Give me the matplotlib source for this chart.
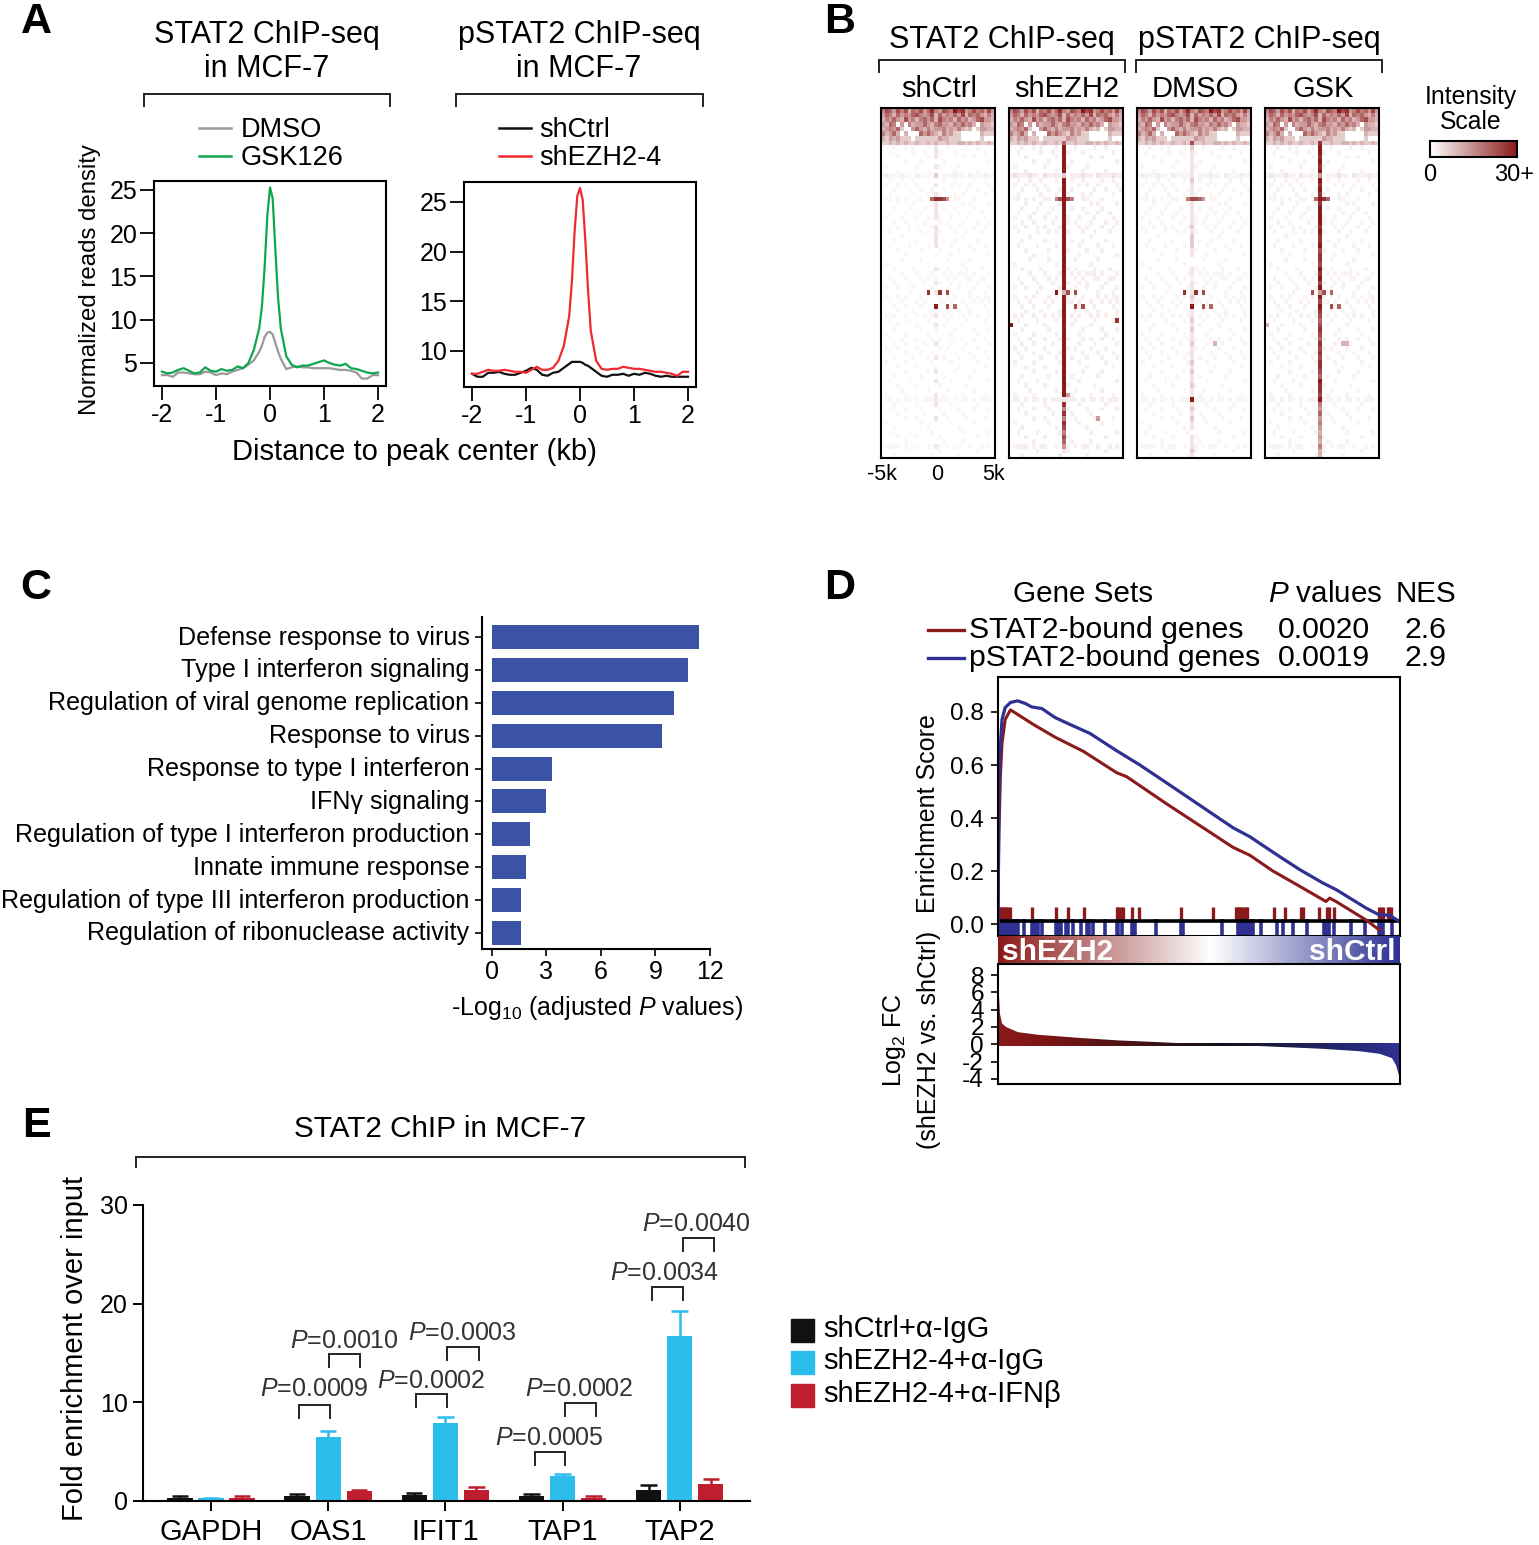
import matplotlib
matplotlib.use('Agg')
import matplotlib.pyplot as plt
import numpy as np
from matplotlib.colors import LinearSegmentedColormap
from matplotlib.transforms import ScaledTranslation

plt.rcParams['font.family'] = ['Liberation Sans', 'DejaVu Sans']
plt.rcParams['mathtext.fontset'] = 'custom'
plt.rcParams['mathtext.rm'] = 'Liberation Sans'
plt.rcParams['mathtext.it'] = 'Liberation Sans:italic'
plt.rcParams['mathtext.bf'] = 'Liberation Sans:bold'
plt.rcParams['axes.linewidth'] = 1.5
plt.rcParams['axes.unicode_minus'] = False

W, H = 1539, 1545

# Panel A
kb = [-2, -1.9, -1.8, -1.7, -1.6, -1.5, -1.4, -1.3, -1.2, -1.1, -1, -0.9, -0.8, -0.7, -0.6, -0.5, -0.4, -0.3,
      -0.2, -0.15, -0.1, -0.05, 0, 0.05, 0.1, 0.15, 0.2, 0.3, 0.4, 0.5, 0.6, 0.7, 0.8, 0.9, 1, 1.1, 1.2, 1.3,
      1.4, 1.5, 1.6, 1.7, 1.8, 1.9, 2]
dmso = [3.6, 3.6, 3.4, 3.9, 3.9, 3.8, 3.7, 3.7, 4.0, 3.9, 3.6, 3.8, 3.7, 4.0, 4.2, 4.4, 4.8, 5.3,
        6.3, 7.0, 8.0, 8.5, 8.6, 8.3, 7.3, 6.3, 5.5, 4.3, 4.5, 4.6, 4.5, 4.5, 4.4, 4.4, 4.4, 4.4, 4.3, 4.2,
        4.2, 4.1, 3.9, 3.2, 3.2, 3.6, 3.6]
gsk126 = [4.0, 3.8, 3.9, 4.2, 4.4, 4.1, 3.8, 3.9, 4.5, 4.1, 4.0, 4.3, 4.1, 4.2, 4.6, 4.4, 5.0, 6.5,
          9.0, 11.5, 16.0, 22.0, 25.3, 24.0, 18.0, 12.5, 9.0, 5.8, 4.8, 4.5, 4.7, 4.7, 4.9, 5.1, 5.3, 5.0, 4.8, 4.7,
          4.9, 4.4, 4.3, 4.1, 3.9, 3.8, 3.9]
shctrl_a = [7.7, 7.4, 7.4, 7.8, 7.8, 7.9, 7.7, 7.6, 7.6, 7.8, 8.0, 8.3, 8.1, 7.6, 7.5, 7.8, 7.9, 8.3,
            8.7, 8.9, 8.9, 8.9, 8.9, 8.8, 8.6, 8.5, 8.3, 7.9, 7.5, 7.4, 7.6, 7.6, 7.7, 7.5, 7.7, 7.6, 7.8, 7.7,
            7.5, 7.4, 7.5, 7.4, 7.4, 7.4, 7.4]
shezh2_a = [7.7, 7.7, 7.9, 8.1, 8.0, 8.0, 8.1, 8.0, 7.9, 7.9, 7.8, 8.1, 8.4, 8.1, 8.1, 8.3, 9.0, 10.5,
            13.5, 17.0, 22.0, 25.6, 26.4, 25.2, 21.0, 16.0, 12.0, 9.0, 8.2, 8.1, 8.2, 8.2, 8.4, 8.3, 8.2, 8.2, 8.1, 8.0,
            7.9, 7.9, 7.8, 7.7, 7.5, 7.9, 7.9]

# Panel B: digits are intensity levels, one string per row, one char per column
bg_rows = [
    '576475736574685476597845756474', '465364546754573645464736564353', '354643745356463754536453467443',
    '436504053446435644354645304332', '345462004643534453435323024433', '534630300064643253422000003222',
    '324342220222222433222000002000', '223232322322323223223323232232', '000100101000101001000010010000',
    '001000001001000100010000000100', '000010000000100000000100100000', '000000100010000010000000000010',
    '010000000100000100001000000000', '000010000000100000010000010000', '121112110211112011121102111211',
    '001001001000100010010000100100', '010010100100001000101001000010', '000100010010010010000010010001',
    '001000001000100100010100000100', '011010100110002010011000100000', '000010001000010000000101000010',
    '000100010001000010010000100000', '001000100010001000001001001000', '010001000100100100100010000100',
    '000100100001000101000100010010', '010010010100010000101000100100', '001000010010100100010010001000',
    '000001000000001000000100000000', '000100000100000010010000010000', '001000010000100000100001000100',
    '000010000010000100001000100000', '000000100000001000100000000010', '000001000010000001000001000000',
    '010000000000100000000100000000', '000100001000000101000010001000', '000001000100010010101110100010',
    '001000100010101001010011001100', '000100010001000100101000010000', '010010001000010001001000100010',
    '000000010000000100000001000100', '010010100010100101010001010110', '001001000101000110100100101010',
    '000100100010001000100010000100', '000010001000010001001001000010', '010100100101010010100101010010',
    '001000010000100001000010000100', '000010000100000010000100000000', '000100000010001000010000100010',
    '010000100000100000100000010000', '001001000100010100010100100100', '000100100001001000100010000010',
    '010010000100000101000100010000', '001000100010010000010001000100', '000100001000100010001000100010',
    '010000100000010000100000010000', '000010000100001000001000000100', '000000100000100000010000100000',
    '000100000010000010000001000000', '001000010000001000100000000010', '000010000100000100000010000000',
    '000001000000100001000000100000', '010000100000000010000100000100', '011010110101110111010110101110',
    '000100000100001000100000010000', '001000100010000100001000100010', '000010000001000010000100000000',
    '000000100100000001000010000100', '010000000010000000100000100000', '000100000000100000001000000000',
    '001000010000010000000100000010', '000010000100000100000000010000', '000000100000000010000100000000',
    '011110101100101101011001001010', '000000010000000100000000010000', '000100000000010000001000000000',
]
center_ctrl = '5565645' + '3' + '111010' + '2' + '010101111011111000010010' + '1' + '0010101000100100101001' + '1' + '10010000' + '0100'
center_ezh2 = '5565645' + '6' + '999999' + '2' + '999999999999999999999999' + '3' + '9999999999999999999999' + '1' + '85858757' + '6410'
center_dmso = '4565945' + '7' + '211111' + '1' + '211121111121222110011011' + '1' + '2121121211211121211211' + '9' + '12121101' + '1121'
center_gsk = '5676845' + '8' + '998989' + '4' + '989898999989889788798979' + '4' + '9798767876878788769887' + '9' + '54645434' + '3533'
# row, column, level
dots_ctrl = [(19, 13, 6), (19, 14, 8), (19, 15, 8), (19, 16, 7), (19, 17, 4), (39, 12, 8), (39, 15, 8), (39, 17, 7),
             (42, 14, 9), (42, 17, 7), (42, 19, 6)]
dots_ezh2 = [(19, 12, 5), (19, 13, 7), (19, 15, 7), (19, 16, 5), (39, 12, 9), (39, 15, 7), (39, 17, 7), (42, 17, 7),
             (42, 19, 7), (45, 28, 8), (46, 0, 9), (66, 23, 4), (61, 15, 4)]
dots_dmso = [(19, 13, 5), (19, 14, 7), (19, 15, 7), (19, 16, 6), (19, 17, 4), (39, 12, 8), (39, 15, 8), (39, 17, 7),
             (42, 14, 9), (42, 17, 7), (42, 19, 6), (50, 20, 3)]
dots_gsk = [(19, 13, 6), (19, 15, 8), (19, 16, 6), (39, 12, 7), (39, 15, 7), (39, 17, 6), (42, 17, 7), (42, 19, 6),
            (46, 0, 3), (50, 20, 3), (50, 21, 3)]
heat_names = ['shCtrl', 'shEZH2', 'DMSO', 'GSK']
heat_centers = [center_ctrl, center_ezh2, center_dmso, center_gsk]
heat_dots = [dots_ctrl, dots_ezh2, dots_dmso, dots_gsk]
heat_sparse = [0.3, 0.6, 0.4, 0.5]

# Panel C
terms = ['Defense response to virus', 'Type I interferon signaling', 'Regulation of viral genome replication',
         'Response to virus', 'Response to type I interferon', 'IFN\u03b3 signaling',
         'Regulation of type I interferon production', 'Innate immune response',
         'Regulation of type III interferon production', 'Regulation of ribonuclease activity']
logp = [11.4, 10.8, 10.0, 9.36, 3.3, 2.97, 2.1, 1.87, 1.6, 1.6]

# Panel D
es_blue_x = [0, 0.001, 0.002, 0.004, 0.010, 0.018, 0.031, 0.049, 0.068, 0.084, 0.109, 0.142, 0.179, 0.229, 0.295, 0.353,
             0.419, 0.502, 0.585, 0.626, 0.692, 0.750, 0.808, 0.841, 0.916, 0.949, 0.973, 1.0]
es_blue_y = [0, 0.25, 0.45, 0.632, 0.772, 0.817, 0.836, 0.842, 0.832, 0.819, 0.813, 0.779, 0.753, 0.719, 0.654, 0.600,
             0.533, 0.448, 0.363, 0.330, 0.263, 0.206, 0.155, 0.130, 0.060, 0.034, 0.034, 0.009]
es_red_x = [0, 0.001, 0.0025, 0.006, 0.010, 0.018, 0.031, 0.088, 0.142, 0.213, 0.295, 0.320, 0.419, 0.585, 0.626, 0.684,
            0.758, 0.816, 0.825, 0.841, 0.916, 0.949]
es_red_y = [0, 0.18, 0.35, 0.56, 0.683, 0.772, 0.808, 0.753, 0.705, 0.651, 0.571, 0.556, 0.454, 0.289, 0.260, 0.200,
            0.136, 0.085, 0.098, 0.085, 0.015, -0.023]
rug_red = [0, .004, .008, .012, .017, .021, .025, .029, .085, .145, .175, .213, .295, .299, .307, .312, .334, .350, .455,
           .534, .591, .595, .599, .603, .607, .611, .616, .620, .686, .714, .754, .758, .799, .818, .823, .837, .949,
           .953, .957, .969, .973, .978]
rug_blue = [0, .004, .008, .012, .017, .021, .025, .029, .033, .037, .041, .045, .050, .065, .084, .088, .092, .096, .100,
            .109, .145, .149, .153, .157, .168, .174, .186, .206, .222, .227, .237, .267, .295, .299, .308, .333, .337,
            .341, .393, .455, .460, .557, .597, .601, .605, .609, .613, .617, .621, .626, .630, .634, .655, .694, .709,
            .734, .769, .812, .816, .824, .837, .879, .913, .949, .953, .957, .980]
fc_x = [0, 0.002, 0.005, 0.01, 0.02, 0.05, 0.1, 0.2, 0.3, 0.4, 0.5, 0.6, 0.7, 0.8, 0.9, 0.95, 0.98, 0.99, 0.997, 1]
fc_y = [9.0, 6.0, 3.5, 2.4, 2.0, 1.4, 1.1, 0.75, 0.45, 0.25, 0.03, -0.1, -0.3, -0.5, -0.8, -1.1, -1.6, -2.4, -3.5, -4.4]

# Panel E
genes = ['GAPDH', 'OAS1', 'IFIT1', 'TAP1', 'TAP2']
e_series = ['shCtrl+\u03b1-IgG', 'shEZH2-4+\u03b1-IgG', 'shEZH2-4+\u03b1-IFN\u03b2']
e_means = [[0.27, 0.54, 0.57, 0.54, 1.11], [0.27, 6.45, 7.9, 2.53, 16.76], [0.27, 0.98, 1.08, 0.27, 1.76]]
e_tops = [[0.47, 0.74, 0.78, 0.74, 1.62], [0.3, 7.1, 8.5, 2.74, 19.3], [0.47, 1.08, 1.39, 0.47, 2.2]]
e_colors = ['#111111', '#2bbdec', '#be1e2d']
p_labels = ['0.0009', '0.0010', '0.0002', '0.0003', '0.0005', '0.0002', '0.0034', '0.0040']
p_brackets = [(299, 330, 1405, 314, 1387), (329, 360, 1354, 344, 1339), (416, 447, 1394, 431, 1379),
              (447, 479, 1347, 462, 1331), (535, 565, 1452, 549, 1436), (565, 596, 1403, 579, 1387),
              (652, 683, 1287, 665, 1271), (683, 714, 1238, 696, 1222)]

fig = plt.figure(figsize=(W / 100, H / 100), dpi=100)


def axpx(x0, y0, x1, y1):
    return fig.add_axes([x0 / W, 1 - y1 / H, (x1 - x0) / W, (y1 - y0) / H])


ov = fig.add_axes([0, 0, 1, 1], zorder=10)
ov.set_xlim(0, W)
ov.set_ylim(H, 0)
ov.axis('off')


def txt(x, y, s, size=21, ha='center', **kw):
    # va center sits a touch high in Liberation, nudge it
    if kw.get('rotation') == 90:
        x += 2
    else:
        y += 2
    ov.text(x, y, s, fontsize=size, ha=ha, va='center', **kw)


def bracket(x0, x1, y, leg=12, lw=1.4):
    ov.plot([x0, x0, x1, x1], [y + leg, y, y, y + leg], color='#222222', lw=lw, solid_joinstyle='miter')


for letter, lx, ly in [('A', 36, 20), ('B', 840, 20), ('C', 36, 586), ('D', 840, 586), ('E', 36, 1124)]:
    txt(lx, ly, letter, size=31, fontweight='bold')

# A
for box, xlim, ylim, yticks, series, cols in [
    ((154, 181, 386, 386), (-2.148, 2.148), (2.34, 26.04), [5, 10, 15, 20, 25], (dmso, gsk126), ('#9a9a9a', '#0fa650')),
    ((464, 182, 696, 387), (-2.148, 2.148), (6.37, 27.0), [10, 15, 20, 25], (shctrl_a, shezh2_a), ('#111111', '#ee2a2e')),
]:
    ax = axpx(*box)
    ax.plot(kb, series[0], color=cols[0], lw=1.6)
    ax.plot(kb, series[1], color=cols[1], lw=1.6)
    ax.set_xlim(xlim)
    ax.set_ylim(ylim)
    ax.set_xticks([-2, -1, 0, 1, 2])
    ax.set_yticks(yticks)
    ax.tick_params(labelsize=18, length=10, width=1.3, pad=2)

txt(267, 33, 'STAT2 ChIP-seq', size=22)
txt(267, 67, 'in MCF-7', size=22)
txt(579, 33, 'pSTAT2 ChIP-seq', size=22)
txt(579, 67, 'in MCF-7', size=22)
bracket(144, 390, 94)
bracket(456, 703, 94)
for x0, tx, y, lab, c in [(199, 241, 128, 'DMSO', '#9a9a9a'), (199, 241, 156, 'GSK126', '#0fa650'),
                          (499, 539, 128, 'shCtrl', '#111111'), (499, 539, 156, 'shEZH2-4', '#ee2a2e')]:
    ov.plot([x0, x0 + 32], [y, y], color=c, lw=1.8)
    txt(tx, y, lab, size=19.5, ha='left')
txt(414, 450, 'Distance to peak center (kb)', size=21)
txt(88, 280, 'Normalized reads density', size=17.3, rotation=90)

# B
red_cmap = LinearSegmentedColormap.from_list('heat', ['#ffffff', '#8b1a1a'])
for i, x0 in enumerate([881, 1009, 1137, 1265]):
    ax = axpx(x0, 108, x0 + 114, 458)
    grid = np.array([[int(c) for c in row] for row in bg_rows], dtype=float)
    grid[8:] *= heat_sparse[i]
    for r, c in enumerate(heat_centers[i]):
        grid[r, 14] = max(grid[r, 14], int(c)) if r >= 7 else grid[r, 14]
    for r, c, v in heat_dots[i]:
        grid[r, c] = v
    ax.imshow(grid, cmap=red_cmap, vmin=0, vmax=9, aspect='auto', interpolation='nearest')
    ax.set_xticks([])
    ax.set_yticks([])
    txt(x0 + 58, 87, heat_names[i])
txt(1002, 38, 'STAT2 ChIP-seq', size=22)
txt(1259, 38, 'pSTAT2 ChIP-seq', size=22)
bracket(879, 1125, 60)
bracket(1136, 1382, 60)
txt(882, 473, '-5k', size=15.5)
txt(937, 473, '0', size=15.5)
txt(993, 473, '5k', size=15.5)
txt(1471, 95, 'Intensity', size=17.8)
txt(1471, 120, 'Scale', size=17.8)
cb = axpx(1430, 141, 1517, 157)
cb.imshow(np.linspace(0, 1, 200)[None, :], cmap=red_cmap, aspect='auto')
cb.set_xticks([])
cb.set_yticks([])
txt(1430, 173, '0', size=17)
txt(1514, 173, '30+', size=17)

# C
ax = axpx(482, 617, 710, 949)
ax.barh(range(len(terms)), logp, height=0.73, color='#3a53a4')
ax.set_xlim(-0.55, 12)
ax.set_ylim(9.49, -0.61)
ax.set_xticks([0, 3, 6, 9, 12])
ax.set_yticks(range(len(terms)))
ax.set_yticklabels(terms)
ax.tick_params(axis='y', labelsize=18.05, length=5, width=1.2, pad=4)
ax.tick_params(axis='x', labelsize=18, length=5, width=1.2, pad=3)
for lab in ax.get_yticklabels():
    lab.set_transform(lab.get_transform() + ScaledTranslation(0, 1.4 / 72, fig.dpi_scale_trans))
ax.spines['top'].set_visible(False)
ax.spines['right'].set_visible(False)
txt(597, 1006, r'-Log$_{10}$ (adjusted $\mathit{P}$ values)', size=18)

# D
txt(1083, 592, 'Gene Sets', size=21.3)
txt(1325, 592, r'$\mathit{P}$ values', size=21.3)
txt(1426, 592, 'NES', size=21.3)
for y, lab, pv, nes, c in [(628, 'STAT2-bound genes', '0.0020', '2.6', '#8b1a1a'),
                           (656, 'pSTAT2-bound genes', '0.0019', '2.9', '#2e3192')]:
    ov.plot([928, 964], [y + 2, y + 2], color=c, lw=2.4)
    txt(969, y, lab, size=21.8, ha='left')
    txt(1324, y, pv, size=21.8)
    txt(1425, y, nes, size=21.8)

ax = axpx(998, 677, 1400, 936)
ax.vlines(rug_red, 0.012, 0.066, color='#8b1a1a', lw=2.4)
ax.vlines(rug_blue, -0.045, 0.02, color='#2e3192', lw=2.6)
ax.axhline(0.012, color='black', lw=2.6)
ax.plot(es_red_x, es_red_y, color='#8b1a1a', lw=2.2)
ax.plot(es_blue_x, es_blue_y, color='#2e3192', lw=2.3)
ax.set_xlim(0, 1)
ax.set_ylim(-0.045, 0.932)
ax.set_xticks([])
ax.set_yticks([0, 0.2, 0.4, 0.6, 0.8])
ax.set_yticklabels(['0.0', '0.2', '0.4', '0.6', '0.8'])
ax.tick_params(labelsize=17.6, length=5, width=1.2, pad=5)
txt(926, 814, 'Enrichment Score', size=18, rotation=90)

bar = axpx(998, 936, 1400, 964)
bar.imshow(np.linspace(0, 1, 400)[None, :], aspect='auto',
           cmap=LinearSegmentedColormap.from_list('rb', [(0, '#8b1a1a'), (0.53, '#ffffff'), (1, '#2e3192')]))
bar.axis('off')
txt(1002, 950, 'shEZH2', size=21.5, ha='left', color='white', fontweight='bold')
txt(1396, 950, 'shCtrl', size=21.5, ha='right', color='white', fontweight='bold')

ax = axpx(998, 964, 1400, 1084)
ax.set_xlim(0, 1)
ax.set_ylim(-4.58, 9.27)
fc_cmap = LinearSegmentedColormap.from_list('rkb', [(0, '#8b1a1a'), (0.12, '#7c1515'), (0.55, '#111118'),
                                                    (0.85, '#23266e'), (1, '#2e3192')])
poly = ax.fill_between(fc_x, 0, fc_y, color='none')
im = ax.imshow(np.linspace(0, 1, 400)[None, :], extent=(0, 1, -4.58, 9.27), aspect='auto', cmap=fc_cmap)
im.set_clip_path(poly.get_paths()[0], transform=ax.transData)
# dark baseline under the fill
ax.imshow(np.linspace(0, 1, 400)[None, :], extent=(0, 1, -0.15, 0.12), aspect='auto', cmap=fc_cmap)
ax.set_xlim(0, 1)
ax.set_ylim(-4.58, 9.27)
ax.set_xticks([])
ax.set_yticks([-4, -2, 0, 2, 4, 6, 8])
ax.tick_params(labelsize=17.6, length=5, width=1.2, pad=5)
txt(893, 1040, r'Log$_2$ FC', size=18, rotation=90)
txt(927, 1040, '(shEZH2 vs. shCtrl)', size=18, rotation=90)

# E
ax = axpx(143, 1205, 750, 1501)
ax.set_xlim(-0.58, 4.6)
ax.set_ylim(0, 30)
for k in range(3):
    xs = np.arange(len(genes)) + (k - 1) * 0.265
    ax.bar(xs, e_means[k], width=0.215, color=e_colors[k])
    ax.vlines(xs, e_means[k], e_tops[k], color=e_colors[k], lw=1.8)
    ax.hlines(e_tops[k], xs - 0.07, xs + 0.07, color=e_colors[k], lw=1.8)
ax.set_xticks(range(len(genes)))
ax.set_xticklabels(genes)
ax.set_yticks([0, 10, 20, 30])
ax.tick_params(axis='x', labelsize=21, length=7.5, width=1.4, pad=5)
ax.tick_params(axis='y', labelsize=18, length=7.5, width=1.4, pad=3.5)
ax.spines['top'].set_visible(False)
ax.spines['right'].set_visible(False)
txt(440, 1127, 'STAT2 ChIP in MCF-7', size=21.4)
bracket(136, 745, 1157, leg=10)
txt(73, 1348, 'Fold enrichment over input', size=21, rotation=90)
for lab, (x0, x1, y, tx, ty) in zip(p_labels, p_brackets):
    bracket(x0, x1, y, leg=13)
    txt(tx, ty, r'$\mathit{P}$=' + lab, size=18, color='#333333')
for k, y in enumerate([1330, 1362, 1395]):
    ov.add_patch(plt.Rectangle((791, y - 11), 23, 23, color=e_colors[k]))
    txt(823, y - 3, e_series[k], ha='left')

fig.savefig('out.png', dpi=100)
